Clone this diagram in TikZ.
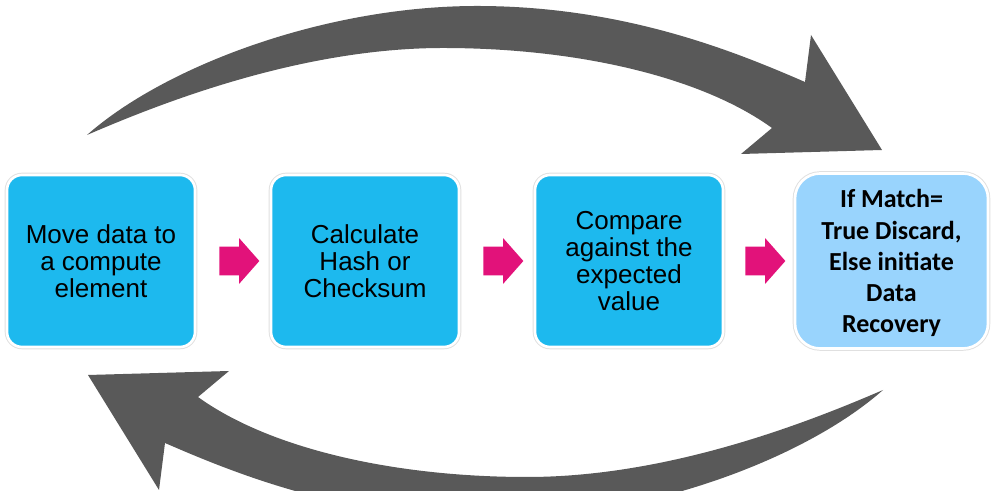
\documentclass[tikz,border=0pt]{standalone}
\usepackage{fontspec}
\setmainfont{Liberation Sans}
\newfontfamily\carlito{Carlito}
\usetikzlibrary{positioning, shapes.arrows}

\definecolor{stepblue}{HTML}{1DB9EE}
\definecolor{lastblue}{HTML}{99D4FD}
\definecolor{flowpink}{HTML}{E2127A}
\definecolor{loopgrey}{HTML}{595959}

\begin{document}
\begin{tikzpicture}[
    stepbox/.style={rectangle, rounded corners=0.3cm, fill=stepblue, draw=white, line width=1.5pt,
        preaction={draw=black!12, line width=2.6pt}, minimum width=3.76cm, minimum height=3.44cm,
        inner sep=0pt, outer sep=0pt, align=center, font=\fontsize{14.8}{15.4}\selectfont},
    laststep/.style={stepbox, rounded corners=0.5cm, fill=lastblue, minimum width=3.86cm,
        minimum height=3.5cm, text depth=0pt, font=\fontsize{14.8}{17.7}\selectfont\carlito\bfseries},
    flowarrow/.style={single arrow, fill=flowpink, minimum height=0.8cm, minimum width=0.9cm,
        single arrow head extend=0.17cm, single arrow tip angle=97,
        inner xsep=0pt, inner ysep=0.28cm, outer sep=0pt}
]
    \clip (0, 0) rectangle (19.84, 9.82);

    % Loop arrows, the lower one is the upper one turned round
    \foreach \ang in {0, 180} {
        \fill[loopgrey, rotate around={\ang:(9.70, 4.57)}] (1.74, 7.12)
            .. controls (3.3, 8.5) and (6.5, 9.7) .. (9.54, 9.70)
            .. controls (12.5, 9.70) and (14.74, 8.77) .. (16.10, 8.18)
            -- (16.22, 9.12) -- (17.64, 6.82) -- (14.82, 6.74) -- (15.44, 7.26)
            .. controls (14.0, 8.3) and (11.5, 8.86) .. (8.86, 8.86)
            .. controls (6.0, 8.86) and (3.2, 7.75) .. (1.74, 7.12) -- cycle;
    }

    % Steps
    \node[stepbox] (move) at (2.02, 4.6) {Move data to\\a compute\\element};
    \node[stepbox, right=1.52cm of move] (hash) {Calculate\\Hash or\\Checksum};
    \node[stepbox, right=1.52cm of hash] (compare) {Compare\\against the\\expected\\value};
    \node[laststep, right=1.44cm of compare] (decide) {If Match=\\True Discard,\\Else initiate\\Data\\Recovery};

    % Arrows between steps
    \path (move) -- node[flowarrow] (a1) {} (hash);
    \path (hash) -- node[flowarrow] (a2) {} (compare);
    \path (compare) -- node[flowarrow] (a3) {} (decide);
\end{tikzpicture}
\end{document}
